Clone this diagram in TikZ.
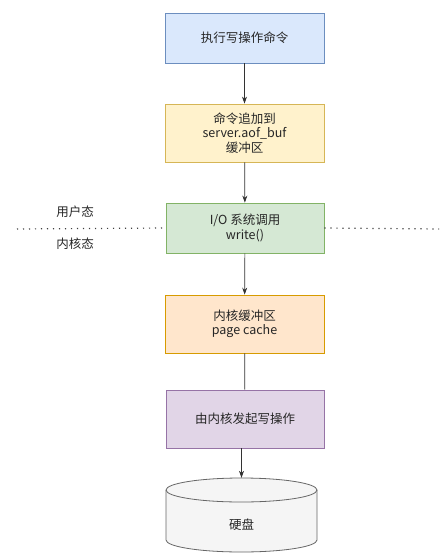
\documentclass[tikz,border=0pt]{standalone}
\usepackage{fontspec}
\setmainfont{Noto Sans CJK SC}
\usetikzlibrary{arrows.meta}
\definecolor{blueF}{HTML}{DAE8FC}\definecolor{blueD}{HTML}{6C8EBF}
\definecolor{yelF}{HTML}{FFF2CC}\definecolor{yelD}{HTML}{D6B656}
\definecolor{grnF}{HTML}{D5E8D4}\definecolor{grnD}{HTML}{82B366}
\definecolor{orgF}{HTML}{FFE6CC}\definecolor{orgD}{HTML}{D79B00}
\definecolor{purF}{HTML}{E1D5E7}\definecolor{purD}{HTML}{9673A6}
\definecolor{gryF}{HTML}{F5F5F5}\definecolor{gryD}{HTML}{666666}
\begin{document}
\begin{tikzpicture}[x=1pt, y=-1pt,
      box/.style={draw, line width=0.8pt, minimum width=159pt, align=center,
        font=\fontsize{12.5}{14.5}\selectfont, text=black!85},
      lbl/.style={font=\fontsize{12.5}{14.5}\selectfont, text=black!85},
      arr/.style={-{Stealth[length=7pt,width=5pt]}, line width=0.7pt, black!80}]
      \useasboundingbox (0,0) rectangle (439,553);
      \node[box, fill=blueF, draw=blueD, minimum height=50pt] (cmd) at (244.5,38) {执行写操作命令};
      \node[box, fill=yelF, draw=yelD, minimum height=58pt] (buf) at (244.5,133) {命令追加到\\server.aof\_buf\\缓冲区};
      \node[box, fill=grnF, draw=grnD, minimum height=50pt, minimum width=158pt] (io) at (245,228) {I/O 系统调用\\write()};
      \node[box, fill=orgF, draw=orgD, minimum height=58pt] (cache) at (244.5,324) {内核缓冲区\\page cache};
      \node[box, fill=purF, draw=purD, minimum height=58pt, minimum width=158pt] (kw) at (245,419) {由内核发起写操作};
      % disk drawn as a cylinder round its node
      \path[draw=gryD, fill=gryF, line width=0.8pt]
        (166,490) -- (166,540) arc[start angle=180, end angle=0, x radius=75.5, y radius=12]
        -- (317,490) arc[start angle=0, end angle=-180, x radius=75.5, y radius=12] -- cycle;
      \draw[gryD, line width=0.8pt] (166,490) arc[start angle=180, end angle=0, x radius=75.5, y radius=12];
      \node[lbl, minimum width=151pt, minimum height=94pt] (disk) at (241.5,525) {硬盘};
      % user / kernel split
      \node[lbl] (user) at (75,212) {用户态};
      \node[lbl] (kern) at (75,244) {内核态};
      \coordinate (lft) at (17,229);
      \coordinate (rgt) at (439,229);
      \draw[line width=1.2pt, black!75, dash pattern=on 1.2pt off 4.8pt] (lft) -- (io.west);
      \draw[line width=1.2pt, black!75, dash pattern=on 1.2pt off 4.8pt] (io.east) -- (rgt);
      % flow
      \draw[arr] (cmd) -- (buf);
      \draw[arr] (buf) -- (io);
      \draw[arr] (io) -- (cache);
      \draw[line width=0.7pt, black!80] (cache) -- (kw);
      \draw[arr] (kw.south -| disk.north) -- (disk.north);
    \end{tikzpicture}
\end{document}
